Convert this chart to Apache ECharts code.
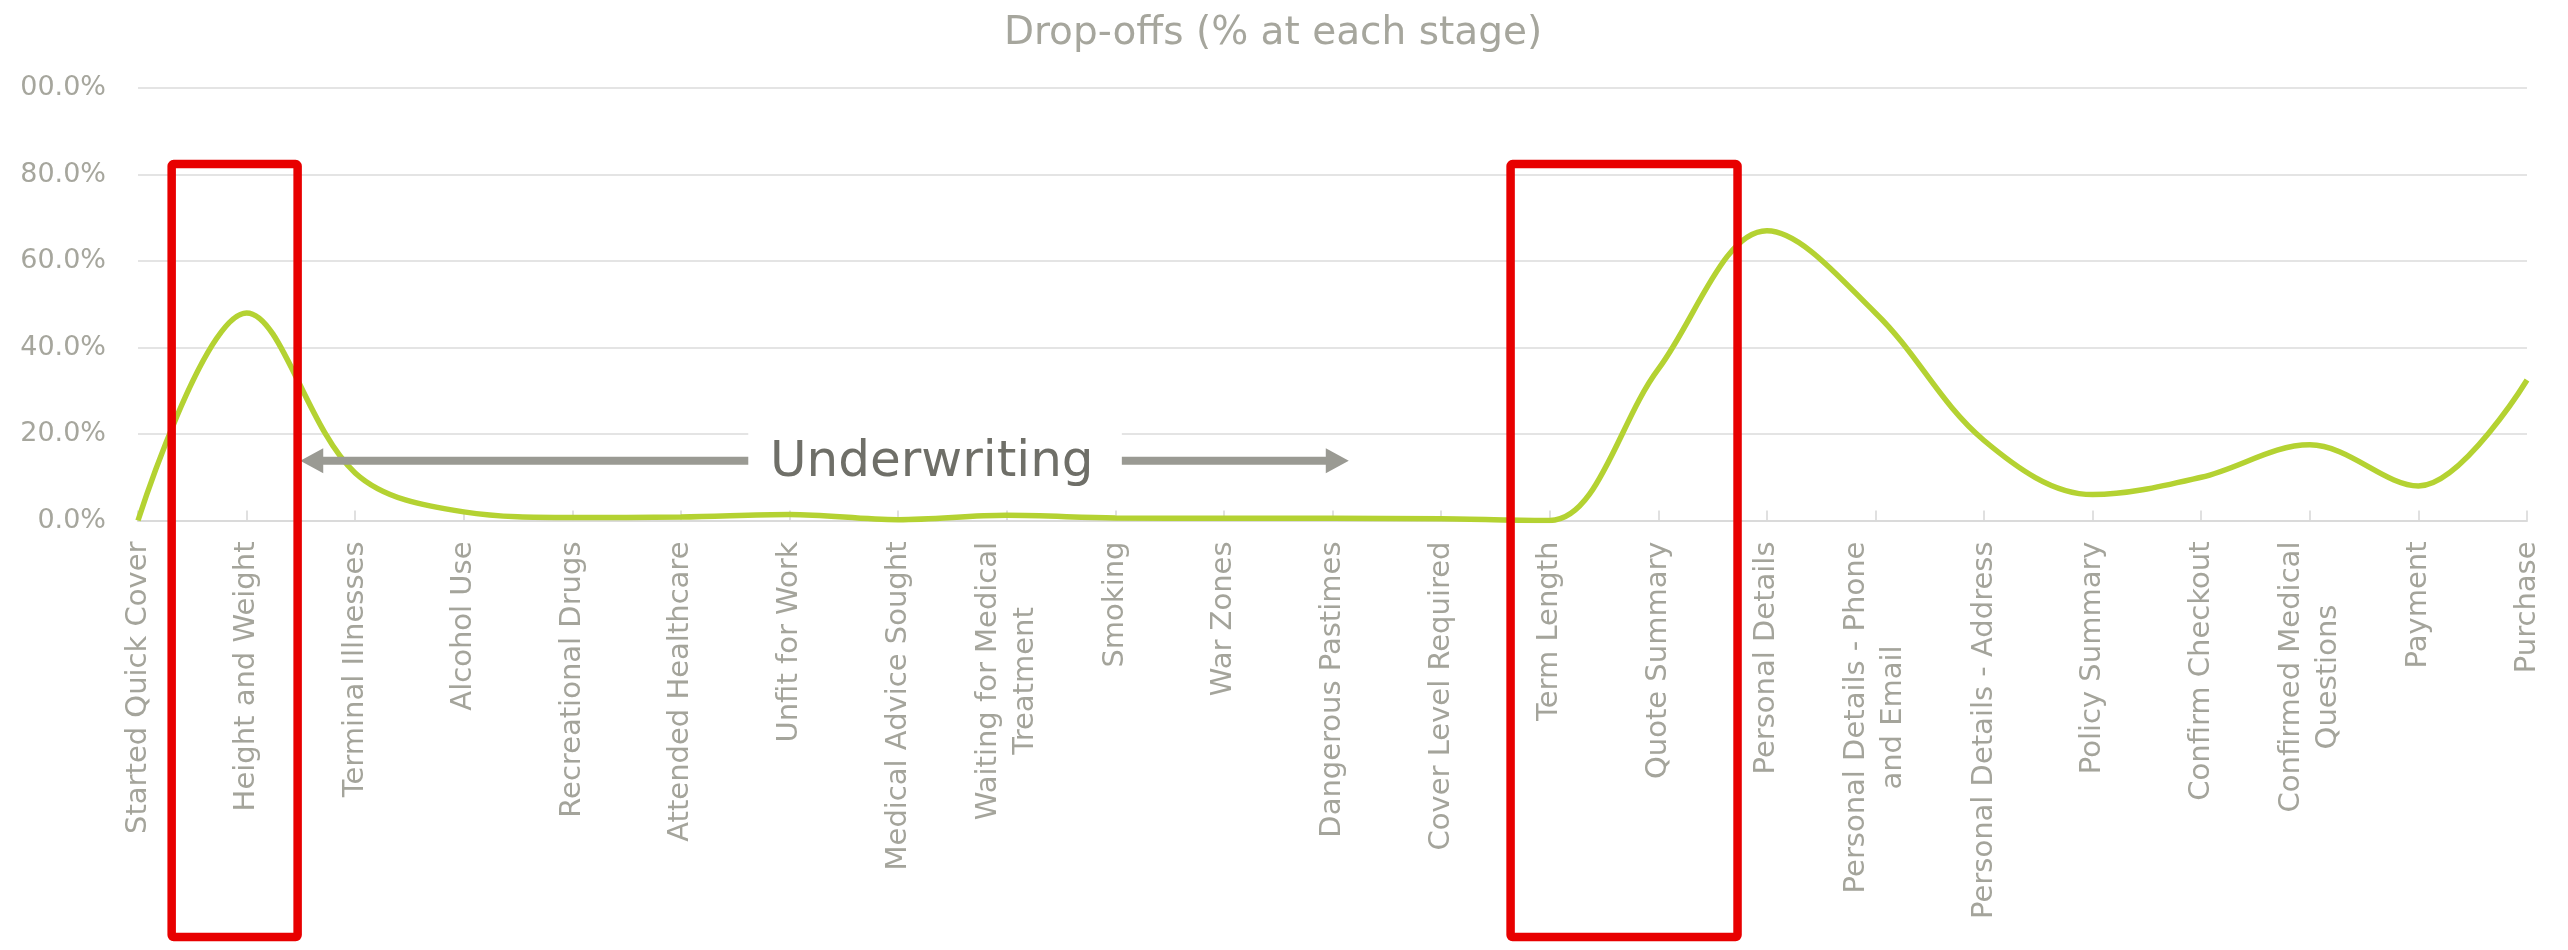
<!DOCTYPE html>
<html>
<head>
<meta charset="utf-8">
<title>Drop-offs (% at each stage)</title>
<script src="https://cdn.jsdelivr.net/npm/echarts@6/dist/echarts.min.js"></script>
<style>
  html, body { margin: 0; padding: 0; background: #ffffff; }
  #chart { width: 2568px; height: 950px; }
</style>
</head>
<body>
<div id="chart"></div>
<script>
// Journey stages, in order
const stages = [
  'Started Quick Cover', 'Height and Weight', 'Terminal Illnesses', 'Alcohol Use',
  'Recreational Drugs', 'Attended Healthcare', 'Unfit for Work', 'Medical Advice Sought',
  'Waiting for Medical\nTreatment', 'Smoking', 'War Zones', 'Dangerous Pastimes',
  'Cover Level Required', 'Term Length', 'Quote Summary', 'Personal Details',
  'Personal Details - Phone\nand Email', 'Personal Details - Address', 'Policy Summary',
  'Confirm Checkout', 'Confirmed Medical\nQuestions', 'Payment', 'Purchase'
];

// Share of users dropping off at each stage (%)
const dropOffPct = [
  0, 48, 11, 2, 0.7, 0.8, 1.4, 0.2,
  1.2, 0.6, 0.5, 0.5, 0.4, 0, 35, 67,
  48, 18.5, 6, 10, 17.5, 8, 32.5
];

// Value axis ticks and the labels printed beside them
const yTicks = [0, 20, 40, 60, 80, 100];
const yTickLabels = ['0.0%', '20.0%', '40.0%', '60.0%', '80.0%', '00.0%'];

// Highlighted stage groups (category index range, percent range)
const highlightBoxes = [
  { from: 0.31, to: 1.47, top: 82.4, bottom: -96.3 },
  { from: 12.64, to: 14.73, top: 82.4, bottom: -96.3 }
];

// "Underwriting" span marker (category index positions, percent height)
const bracketText = 'Underwriting';
const bracket = { y: 13.8, leftTip: 1.494, leftTail: 5.62, rightTail: 9.06, rightTip: 11.15, textAt: 7.31, textY: 13.2 };

const FONT = '"DejaVu Sans", "Liberation Sans", sans-serif';
const labelSize = 29;
const labelLineHeight = 37;
const labelColor = '#a4a49b';

// Two-line stage names: centre each line within the widest one
const measureCtx = document.createElement('canvas').getContext('2d');
measureCtx.font = labelSize + 'px ' + FONT;
const rich = {};
stages.forEach((s, i) => {
  const lines = s.split('\n');
  if (lines.length > 1) {
    const w = Math.ceil(Math.max(...lines.map(l => measureCtx.measureText(l).width)));
    rich['s' + i] = {
      width: w, align: 'center', fontSize: labelSize, fontFamily: FONT,
      color: labelColor, lineHeight: labelLineHeight
    };
  }
});

const chart = echarts.init(document.getElementById('chart'), null, { renderer: 'canvas' });

chart.setOption({
  animation: false,
  backgroundColor: '#ffffff',
  title: {
    text: 'Drop-offs (% at each stage)',
    left: 1268,
    textAlign: 'center',
    top: 9,
    textStyle: { fontFamily: FONT, fontSize: 39, fontWeight: 'normal', color: '#a6a69d' }
  },
  grid: { left: 138, right: 41, top: 88, bottom: 429.5, containLabel: false },
  xAxis: {
    type: 'category',
    data: stages,
    boundaryGap: false,
    axisLine: { lineStyle: { color: '#dadada', width: 2 } },
    axisTick: { inside: true, length: 10, lineStyle: { color: '#d6d6d6', width: 1.5 } },
    axisLabel: {
      interval: 0,
      rotate: 90,
      margin: 21,
      fontFamily: FONT,
      fontSize: labelSize,
      lineHeight: labelLineHeight,
      color: labelColor,
      rich: rich,
      formatter: (v, i) => {
        const lines = v.split('\n');
        return lines.length > 1 ? lines.map(l => '{s' + i + '|' + l + '}').join('\n') : v;
      }
    },
    splitLine: { show: false }
  },
  yAxis: {
    type: 'value',
    min: yTicks[0],
    max: yTicks[yTicks.length - 1],
    interval: yTicks[1] - yTicks[0],
    axisLine: { show: false },
    axisTick: { show: false },
    axisLabel: {
      margin: 32,
      fontFamily: FONT,
      fontSize: 27,
      color: '#a6a69d',
      formatter: v => yTickLabels[yTicks.indexOf(v)]
    },
    splitLine: { lineStyle: { color: '#e4e4e4', width: 2 } }
  },
  series: [{
    type: 'line',
    data: dropOffPct,
    smooth: 0.35,
    symbol: 'none',
    z: 3,
    lineStyle: { color: '#b4d232', width: 5.5 }
  }]
});

// Annotation overlay, positioned through the chart's own coordinate system
function px(idx, val) {
  const a = chart.convertToPixel({ gridIndex: 0 }, [0, val]);
  const b = chart.convertToPixel({ gridIndex: 0 }, [1, val]);
  return [a[0] + (b[0] - a[0]) * idx, a[1]];
}

const graphics = [];

// white band behind the span label
const bandL = px(bracket.leftTail, bracket.y);
const bandR = px(bracket.rightTail, bracket.y);
graphics.push({
  type: 'rect', z: 1,
  shape: { x: bandL[0], y: bandL[1] - 40, width: bandR[0] - bandL[0], height: 80 },
  style: { fill: '#ffffff' }
});

// arrows
const shaft = 8, headLen = 23, headHalf = 12.5;
function arrow(tailIdx, tipIdx) {
  const t = px(tailIdx, bracket.y), h = px(tipIdx, bracket.y);
  const dir = Math.sign(h[0] - t[0]);
  const base = h[0] - dir * headLen;
  return {
    type: 'polygon', z: 10,
    shape: { points: [
      [t[0], t[1] - shaft / 2], [base, t[1] - shaft / 2], [base, t[1] - headHalf],
      [h[0], t[1]], [base, t[1] + headHalf], [base, t[1] + shaft / 2], [t[0], t[1] + shaft / 2]
    ] },
    style: { fill: '#9a9a93' }
  };
}
graphics.push(arrow(bracket.leftTail, bracket.leftTip));
graphics.push(arrow(bracket.rightTail, bracket.rightTip));

const tp = px(bracket.textAt, bracket.textY);
graphics.push({
  type: 'text', z: 10,
  x: tp[0], y: tp[1],
  style: {
    text: bracketText, fill: '#6f6f68', font: '50px ' + FONT,
    textAlign: 'center', textVerticalAlign: 'middle'
  }
});

// red highlight boxes
highlightBoxes.forEach(b => {
  const tl = px(b.from, b.top), br = px(b.to, b.bottom);
  graphics.push({
    type: 'rect', z: 20,
    shape: { x: tl[0], y: tl[1], width: br[0] - tl[0], height: br[1] - tl[1], r: 2 },
    style: { fill: 'none', stroke: '#e80000', lineWidth: 8.5 }
  });
});

chart.setOption({ graphic: graphics });
</script>
</body>
</html>
